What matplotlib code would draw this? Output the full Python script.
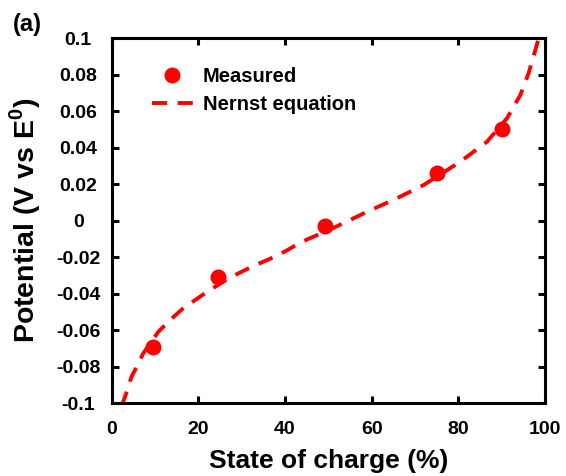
import matplotlib
matplotlib.use("Agg")
import matplotlib.pyplot as plt

plt.rcParams['font.family'] = ['Liberation Sans', 'DejaVu Sans']
plt.rcParams['font.weight'] = 'bold'
plt.rcParams['mathtext.fontset'] = 'custom'
plt.rcParams['mathtext.rm'] = 'Liberation Sans:bold'
plt.rcParams['mathtext.bf'] = 'Liberation Sans:bold'
plt.rcParams['axes.unicode_minus'] = False

# измеренные точки
soc_measured = [9.6, 24.5, 49.3, 75.0, 90.0]
pot_measured = [-0.069, -0.031, -0.003, 0.026, 0.050]

# кривая по уравнению Нернста
soc_nernst = [2.3, 2.7, 3.5, 4.6, 5.8, 7.3, 10.8, 13.9, 16.5, 21.5, 26.9, 32.3,
              38.5, 43.9, 51.2, 58.9, 65.8, 72.0, 80.4, 86.6, 91.2, 94.3,
              96.2, 98.2, 98.6]
pot_nernst = [-0.1015, -0.0993, -0.0938, -0.0856, -0.0801, -0.0728, -0.0609,
              -0.0536, -0.0481, -0.0399, -0.0317, -0.0253, -0.0189, -0.0116,
              -0.0040, 0.0048, 0.0122, 0.0195, 0.0322, 0.0432, 0.0560, 0.0688,
              0.0807, 0.0971, 0.1010]

x_ticks = [0, 20, 40, 60, 80, 100]
y_ticks = [-0.1, -0.08, -0.06, -0.04, -0.02, 0, 0.02, 0.04, 0.06, 0.08, 0.1]
y_tick_labels = ['-0.1', '-0.08', '-0.06', '-0.04', '-0.02', '0',
                 '0.02', '0.04', '0.06', '0.08', '0.1']

fig = plt.figure(figsize=(5.66, 4.76), dpi=100)
ax = fig.add_axes([0.197, 0.153, 0.766, 0.767])

ax.plot(soc_measured, pot_measured, 'o', color='#ff0000', markersize=10.5,
        label='Measured', zorder=3)
ax.plot(soc_nernst, pot_nernst, '--', color='#ff0000', linewidth=2.8,
        dashes=(3.9, 2.7), label='Nernst equation', zorder=2)

ax.set_xlim(0, 100)
ax.set_ylim(-0.1, 0.1)
ax.set_xticks(x_ticks)
ax.set_xticklabels([str(t) for t in x_ticks])
ax.set_yticks(y_ticks)
ax.set_yticklabels(y_tick_labels)

for sp in ax.spines.values():
    sp.set_linewidth(2.2)
ax.tick_params(direction='in', length=5, width=2.2, top=True, right=True,
               labelsize=14)
ax.tick_params(axis='x', pad=12.5)
# подписи по оси Y выровнены по центру
ax.tick_params(axis='y', pad=24)
for lbl in ax.get_yticklabels():
    lbl.set_horizontalalignment('center')

ax.set_xlabel('State of charge (%)', fontsize=19, fontweight='bold')
ax.set_ylabel(r'Potential (V vs E$^{\mathbf{0}}$)', fontsize=20.5,
              fontweight='bold')
ax.xaxis.set_label_coords(0.5, -0.126)
ax.yaxis.set_label_coords(-0.157, 0.5)

ax.legend(loc='upper left', bbox_to_anchor=(0.051, 0.97), frameon=False,
          handlelength=2.05, handletextpad=0.5, labelspacing=0.45,
          prop={'weight': 'bold', 'size': 14.5})

fig.text(0.023, 0.934, '(a)', fontsize=17, fontweight='bold', va='baseline')

fig.savefig('out.png', dpi=100)
